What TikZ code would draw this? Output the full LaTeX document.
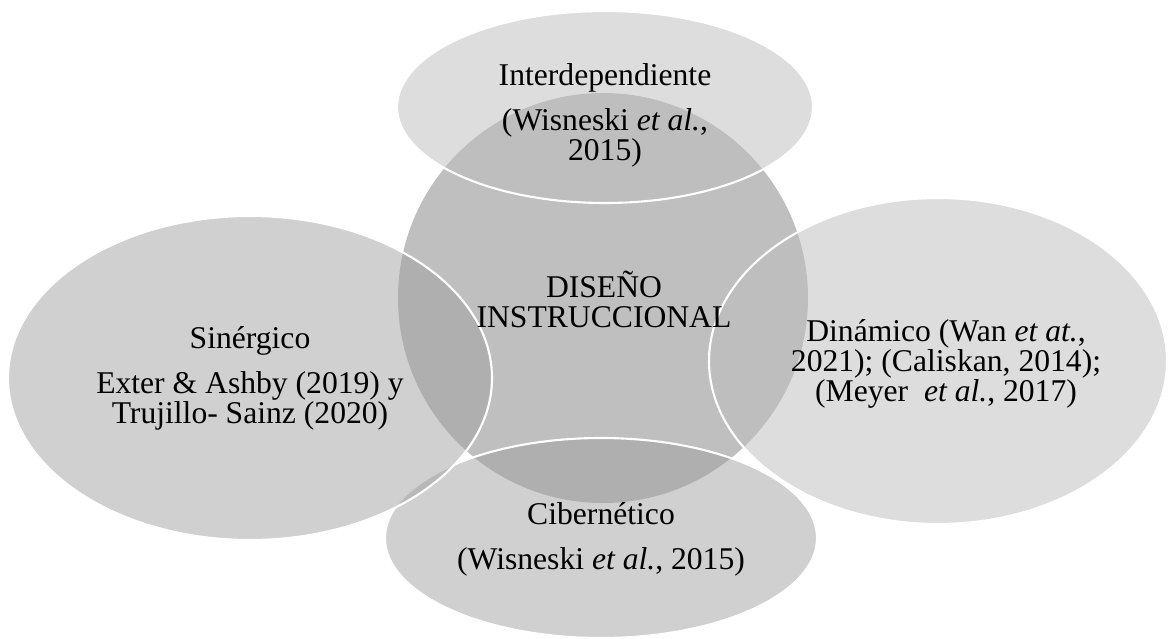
\documentclass[tikz,border=0pt]{standalone}
\usepackage{fontspec}
\setmainfont{Liberation Serif}
\definecolor{coreGray}{gray}{0.75}
\definecolor{petalLight}{gray}{0.745}
\definecolor{petalDark}{gray}{0.63}
\newcommand{\vennSty}{\fontsize{22.5}{21.3}\selectfont}
\newcommand{\etal}{\textit{et al.}}

\begin{document}
\begin{tikzpicture}[
    petal/.style={draw=white, line width=1.5pt, fill opacity=0.5},
    vennText/.style={align=center, inner sep=0pt, font=\vennSty}
  ]

    % page
    \useasboundingbox (0,0) rectangle (29.25,15.95);

    % core circle
    \fill[coreGray] (15.075,8.5) circle (5.125);

    % top petal
    \filldraw[petal, fill=petalLight, fill opacity=0.52] (15.125,13.275) ellipse (5.2 and 2.4);
    % bottom petal
    \filldraw[petal, fill=petalDark] (15.025,2.5) ellipse (5.4 and 2.5);
    % right petal
    \filldraw[petal, fill=petalLight, fill opacity=0.52] (23.45,6.925) ellipse (5.725 and 4.075);
    % left petal
    \filldraw[petal, fill=petalDark] (6.25,6.5) ellipse (6.05 and 4.05);

    % core label
    \node[vennText] (diseno) at (15.1,8.455) {DISEÑO\\INSTRUCCIONAL};

    % petal labels
    \node[vennText] (interdep) at (15.125,13.07) {Interdependiente\\[10.7pt](Wisneski \etal,\\2015)};
    \node[vennText] (sinergico) at (6.25,6.49) {Sinérgico\\[10.7pt]Exter \& Ashby (2019) y\\Trujillo- Sainz (2020)};
    \node[vennText] (dinamico) at (23.65,6.86) {Dinámico (Wan \textit{et at.},\\2021); (Caliskan, 2014);\\(Meyer\ \ \etal, 2017)};
    \node[vennText] (cibernetico) at (15.025,2.47) {Cibernético\\[10.7pt](Wisneski \etal, 2015)};

\end{tikzpicture}
\end{document}
